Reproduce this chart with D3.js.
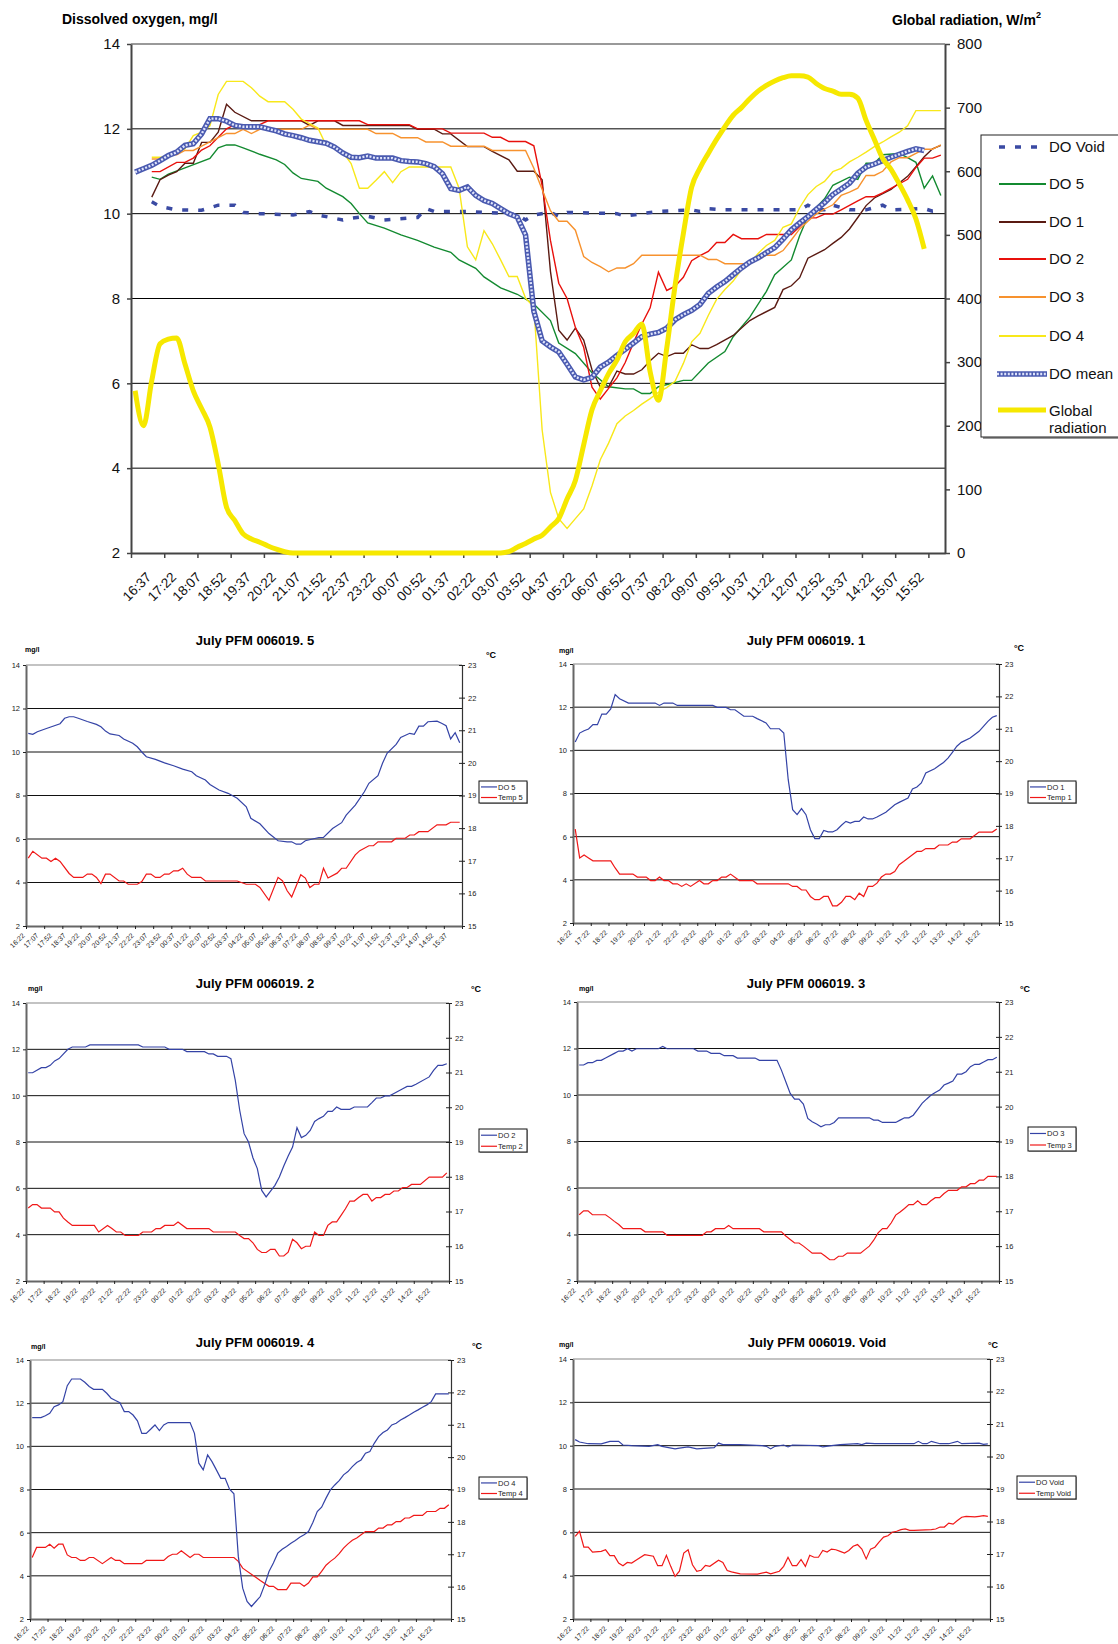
<!DOCTYPE html>
<html>
<head>
<meta charset="utf-8">
<script src="https://cdn.jsdelivr.net/npm/d3@7"></script>
<style>
body { margin: 0; background: #fff; }
svg { display: block; font-family: Arial, "Liberation Sans", sans-serif; }
</style>
</head>
<body>
<svg id="canvas" width="1118" height="1644"></svg>
<script>
// tick labels
const mainLabels = ['16:37','17:22','18:07','18:52','19:37','20:22','21:07','21:52','22:37','23:22','00:07','00:52','01:37','02:22','03:07','03:52','04:37','05:22','06:07','06:52','07:37','08:22','09:07','09:52','10:37','11:22','12:07','12:52','13:37','14:22','15:07','15:52']
const labels5 = ['16:22','17:07','17:52','18:37','19:22','20:07','20:52','21:37','22:22','23:07','23:52','00:37','01:22','02:07','02:52','03:37','04:22','05:07','05:52','06:37','07:22','08:07','08:52','09:37','10:22','11:07','11:52','12:37','13:22','14:07','14:52','15:37']
const hourLabels = ['16:22','17:22','18:22','19:22','20:22','21:22','22:22','23:22','00:22','01:22','02:22','03:22','04:22','05:22','06:22','07:22','08:22','09:22','10:22','11:22','12:22','13:22','14:22','15:22']
const doTicks = [2, 4, 6, 8, 10, 12, 14]
const radTicks = [0, 100, 200, 300, 400, 500, 600, 700, 800]
const tempTicks = [15, 16, 17, 18, 19, 20, 21, 22, 23]

// series: [category index, value], 15 minute steps
const do5 = [[0,10.86],[1,10.81],[2,10.93],[4,11.08],[7,11.3],[8,11.55],[9,11.62],[10,11.62],[11,11.55],[13,11.4],[15,11.27],[16,11.16],[17,10.96],[18,10.83],[20,10.76],[21,10.6],[23,10.4],[24,10.24],[25,10.0],[26,9.78],[28,9.66],[30,9.5],[32,9.37],[34,9.21],[36,9.09],[37,8.91],[39,8.71],[40,8.51],[42,8.25],[44,8.1],[46,7.87],[48,7.48],[49,6.95],[51,6.7],[53,6.25],[55,5.92],[57,5.87],[58,5.87],[59,5.76],[60,5.76],[61,5.92],[64,6.07],[65,6.07],[67,6.48],[69,6.75],[70,7.1],[72,7.56],[74,8.17],[75,8.56],[77,8.91],[78,9.48],[79,9.94],[81,10.35],[82,10.67],[84,10.86],[85,10.81],[86,11.19],[87,11.19],[88,11.39],[90,11.42],[91,11.32],[92,11.21],[93,10.6],[94,10.89],[95,10.43]]
const temp5 = [[0,17.08],[1,17.29],[3,17.08],[4,17.08],[5,16.98],[6,17.08],[7,16.98],[9,16.61],[10,16.49],[12,16.49],[13,16.59],[14,16.59],[15,16.49],[16,16.3],[17,16.59],[18,16.59],[20,16.38],[21,16.38],[22,16.28],[24,16.28],[25,16.36],[26,16.59],[27,16.59],[28,16.49],[29,16.49],[30,16.59],[31,16.59],[32,16.69],[33,16.69],[34,16.77],[35,16.59],[36,16.49],[38,16.49],[39,16.38],[46,16.38],[48,16.28],[50,16.28],[51,16.18],[53,15.79],[55,16.49],[56,16.38],[57,16.08],[58,15.89],[60,16.57],[61,16.47],[62,16.18],[63,16.28],[64,16.28],[65,16.77],[66,16.47],[68,16.62],[69,16.77],[70,16.77],[72,17.18],[73,17.31],[75,17.46],[76,17.46],[77,17.58],[80,17.58],[81,17.69],[83,17.69],[84,17.79],[85,17.79],[86,17.89],[88,17.89],[90,18.1],[92,18.1],[93,18.18],[95,18.18]]
const do1 = [[0,10.39],[1,10.8],[2,10.91],[3,10.99],[4,11.19],[5,11.19],[6,11.68],[7,11.68],[8,11.92],[9,12.58],[10,12.39],[12,12.19],[18,12.19],[19,12.08],[20,12.19],[22,12.19],[23,12.08],[31,12.08],[32,11.99],[34,11.99],[35,11.88],[36,11.88],[38,11.58],[40,11.58],[41,11.47],[43,11.27],[44,11.0],[46,11.0],[47,10.8],[48,8.64],[49,7.25],[50,7.02],[51,7.3],[52,7.02],[53,6.32],[54,5.91],[55,5.91],[56,6.29],[57,6.22],[58,6.22],[59,6.32],[60,6.53],[61,6.71],[62,6.63],[63,6.71],[64,6.71],[65,6.91],[66,6.82],[67,6.82],[68,6.91],[70,7.13],[72,7.48],[73,7.59],[75,7.79],[76,8.21],[77,8.3],[78,8.49],[79,8.95],[81,9.15],[82,9.3],[83,9.44],[84,9.64],[85,9.91],[86,10.19],[87,10.37],[89,10.57],[91,10.88],[92,11.11],[93,11.34],[94,11.53],[95,11.61]]
const temp1 = [[0,17.9],[1,17.01],[2,17.1],[3,17.01],[4,16.92],[8,16.92],[9,16.7],[10,16.51],[13,16.51],[14,16.42],[16,16.42],[17,16.31],[18,16.31],[19,16.42],[20,16.31],[21,16.31],[22,16.21],[23,16.21],[24,16.13],[25,16.21],[26,16.13],[28,16.31],[29,16.21],[30,16.21],[31,16.31],[32,16.31],[33,16.42],[34,16.42],[35,16.51],[37,16.31],[40,16.31],[41,16.21],[48,16.21],[49,16.13],[50,16.13],[51,16.02],[52,16.02],[53,15.82],[54,15.72],[55,15.72],[56,15.82],[57,15.82],[58,15.53],[59,15.53],[60,15.64],[61,15.82],[62,15.82],[63,15.72],[64,15.92],[65,15.82],[66,16.13],[67,16.13],[68,16.23],[69,16.42],[70,16.51],[71,16.51],[72,16.59],[73,16.8],[74,16.9],[76,17.11],[77,17.21],[78,17.21],[79,17.3],[81,17.3],[82,17.41],[84,17.41],[85,17.5],[86,17.5],[87,17.6],[89,17.6],[91,17.81],[94,17.81],[95,17.9]]
const do2 = [[0,10.99],[1,10.99],[3,11.21],[4,11.21],[5,11.31],[6,11.5],[7,11.6],[9,12.0],[10,12.1],[13,12.1],[14,12.19],[25,12.19],[26,12.1],[31,12.1],[32,12.0],[35,12.0],[36,11.9],[40,11.9],[41,11.8],[42,11.8],[43,11.7],[45,11.7],[46,11.6],[47,10.66],[48,9.37],[49,8.36],[50,8.0],[51,7.32],[52,6.85],[53,5.91],[54,5.63],[55,5.88],[56,6.13],[57,6.49],[58,6.96],[59,7.4],[60,7.78],[61,8.62],[62,8.19],[63,8.29],[64,8.5],[65,8.89],[66,9.01],[67,9.11],[68,9.32],[69,9.32],[70,9.51],[71,9.41],[73,9.41],[74,9.51],[77,9.51],[78,9.7],[79,9.9],[80,9.9],[81,9.99],[82,9.99],[83,10.09],[85,10.3],[86,10.4],[87,10.4],[88,10.49],[91,10.81],[92,11.09],[93,11.31],[94,11.31],[95,11.38]]
const temp2 = [[0,17.1],[1,17.2],[2,17.2],[3,17.1],[5,17.1],[6,16.99],[7,16.99],[8,16.81],[9,16.7],[10,16.6],[15,16.6],[16,16.41],[18,16.6],[19,16.51],[20,16.41],[21,16.41],[22,16.31],[25,16.31],[26,16.41],[28,16.41],[29,16.51],[30,16.51],[31,16.6],[33,16.6],[34,16.7],[36,16.51],[41,16.51],[42,16.41],[47,16.41],[48,16.31],[49,16.22],[50,16.22],[51,16.1],[52,15.91],[53,15.82],[54,15.82],[55,15.91],[56,15.91],[57,15.72],[58,15.72],[59,15.83],[60,16.2],[61,16.1],[62,15.93],[63,16.0],[64,16.0],[65,16.41],[66,16.31],[67,16.31],[68,16.6],[69,16.7],[70,16.7],[71,16.89],[72,17.08],[73,17.3],[74,17.3],[75,17.4],[76,17.49],[77,17.49],[78,17.3],[79,17.4],[80,17.4],[81,17.49],[82,17.49],[83,17.59],[84,17.59],[85,17.69],[86,17.69],[87,17.78],[89,17.78],[91,17.99],[94,17.99],[95,18.11]]
const do3 = [[0,11.29],[1,11.29],[2,11.39],[3,11.39],[4,11.49],[5,11.49],[6,11.59],[8,11.79],[9,11.89],[10,11.89],[11,11.99],[12,11.89],[13,11.99],[18,11.99],[19,12.09],[20,11.99],[26,11.99],[27,11.89],[29,11.89],[30,11.79],[32,11.79],[33,11.69],[35,11.69],[36,11.59],[40,11.59],[41,11.49],[45,11.49],[46,11.07],[47,10.57],[48,10.07],[49,9.82],[50,9.82],[51,9.61],[52,8.99],[53,8.85],[54,8.75],[55,8.63],[56,8.72],[57,8.72],[58,8.82],[59,9.02],[66,9.02],[67,8.92],[68,8.92],[69,8.82],[72,8.82],[73,8.92],[74,9.02],[75,9.02],[76,9.13],[77,9.38],[78,9.64],[79,9.82],[80,9.99],[81,10.11],[82,10.21],[83,10.43],[84,10.51],[85,10.6],[86,10.9],[87,10.9],[88,11.0],[89,11.22],[90,11.32],[91,11.32],[92,11.42],[93,11.52],[94,11.52],[95,11.62]]
const temp3 = [[0,16.9],[1,17.01],[2,17.01],[3,16.9],[6,16.9],[7,16.81],[8,16.71],[9,16.62],[10,16.5],[14,16.5],[15,16.41],[19,16.41],[20,16.31],[28,16.31],[29,16.41],[30,16.41],[31,16.5],[33,16.5],[34,16.59],[35,16.5],[41,16.5],[42,16.41],[46,16.41],[47,16.29],[48,16.19],[49,16.09],[50,16.09],[51,16.0],[52,15.9],[53,15.8],[55,15.8],[56,15.71],[57,15.61],[58,15.61],[59,15.71],[60,15.71],[61,15.8],[64,15.8],[65,15.9],[66,16.0],[67,16.17],[68,16.38],[69,16.5],[70,16.5],[71,16.67],[72,16.89],[73,16.98],[74,17.08],[75,17.19],[76,17.19],[77,17.3],[78,17.19],[79,17.19],[80,17.3],[81,17.39],[82,17.39],[83,17.51],[84,17.6],[86,17.6],[87,17.7],[88,17.7],[89,17.79],[90,17.79],[91,17.89],[92,17.89],[93,18.0],[95,18.0]]
const do4 = [[0,11.33],[2,11.33],[3,11.42],[4,11.53],[5,11.84],[6,11.92],[7,12.07],[8,12.81],[9,13.12],[11,13.12],[12,12.97],[13,12.77],[14,12.64],[16,12.64],[17,12.46],[18,12.23],[19,12.12],[20,12.02],[21,11.61],[22,11.61],[23,11.45],[24,11.18],[25,10.6],[26,10.6],[27,10.79],[28,10.99],[29,10.73],[30,10.99],[31,11.1],[36,11.1],[37,10.6],[38,9.22],[39,8.91],[40,9.6],[41,9.29],[42,8.91],[43,8.52],[44,8.52],[45,8.01],[46,7.8],[47,4.9],[48,3.43],[49,2.81],[50,2.58],[51,2.81],[52,3.04],[53,3.58],[54,4.2],[55,4.59],[56,5.05],[57,5.23],[58,5.36],[59,5.51],[60,5.64],[61,5.79],[62,5.9],[63,6.05],[64,6.47],[65,6.98],[66,7.18],[67,7.6],[68,7.98],[69,8.21],[70,8.41],[71,8.68],[72,8.83],[73,9.06],[74,9.25],[75,9.37],[76,9.68],[77,9.76],[78,10.14],[79,10.45],[80,10.64],[81,10.76],[82,10.99],[83,11.07],[84,11.22],[85,11.33],[86,11.45],[87,11.58],[88,11.69],[89,11.81],[90,11.92],[91,12.07],[92,12.43],[93,12.43],[95,12.43]]
const temp4 = [[0,16.9],[1,17.21],[3,17.21],[4,17.31],[5,17.19],[6,17.31],[7,17.31],[8,16.98],[9,16.9],[10,16.9],[11,16.81],[12,16.81],[13,16.9],[14,16.9],[16,16.71],[18,16.9],[19,16.81],[20,16.81],[21,16.71],[25,16.71],[26,16.81],[30,16.81],[31,16.93],[32,17.0],[33,17.0],[34,17.11],[36,16.9],[37,17.0],[38,17.0],[39,16.9],[46,16.9],[47,16.78],[48,16.57],[52,16.19],[54,16.01],[55,16.01],[56,15.91],[58,15.91],[59,16.11],[61,16.11],[62,16.01],[63,16.11],[64,16.3],[65,16.3],[66,16.47],[67,16.66],[68,16.78],[69,16.88],[70,17.02],[71,17.19],[72,17.32],[73,17.43],[74,17.5],[75,17.6],[76,17.7],[78,17.7],[79,17.81],[80,17.81],[81,17.91],[82,17.91],[83,18.01],[84,18.01],[85,18.12],[86,18.12],[87,18.2],[89,18.2],[90,18.32],[92,18.32],[93,18.42],[94,18.42],[95,18.53]]
const doVoid = [[0,10.28],[1,10.17],[3,10.09],[6,10.08],[8,10.2],[10,10.2],[11,10.03],[13,10.0],[17,9.97],[19,10.05],[20,9.97],[23,9.85],[24,9.89],[26,9.94],[28,9.85],[32,9.91],[33,10.12],[34,10.05],[38,10.05],[43,10.0],[44,9.97],[45,9.85],[46,9.97],[48,10.03],[49,9.94],[50,10.03],[56,10.0],[57,9.94],[59,10.0],[61,10.05],[65,10.09],[66,10.05],[67,10.12],[69,10.09],[78,10.09],[79,10.2],[80,10.09],[81,10.09],[82,10.2],[84,10.09],[86,10.09],[88,10.2],[89,10.09],[93,10.12],[94,10.06],[95,10.08]]
const tempVoid = [[0,17.54],[1,17.7],[2,17.21],[3,17.21],[4,17.06],[6,17.08],[7,17.13],[8,16.95],[9,16.95],[10,16.72],[11,16.64],[12,16.74],[13,16.72],[14,16.81],[16,16.98],[18,16.93],[19,16.64],[20,16.64],[21,16.96],[22,16.62],[23,16.31],[24,16.47],[25,17.03],[26,17.13],[27,16.67],[28,16.47],[29,16.5],[30,16.65],[31,16.62],[33,16.81],[34,16.74],[35,16.49],[36,16.45],[38,16.39],[42,16.38],[44,16.44],[45,16.39],[47,16.47],[48,16.62],[49,16.9],[50,16.64],[51,16.64],[52,16.83],[53,16.62],[54,16.96],[55,16.9],[56,16.9],[57,17.11],[58,17.06],[59,17.15],[60,17.13],[61,17.08],[62,17.03],[63,17.11],[64,17.24],[65,17.29],[66,17.15],[67,16.85],[68,17.15],[69,17.21],[70,17.37],[71,17.52],[72,17.56],[73,17.67],[74,17.7],[75,17.75],[76,17.77],[77,17.73],[78,17.73],[82,17.75],[83,17.77],[84,17.83],[85,17.83],[86,17.95],[87,17.92],[88,18.03],[89,18.13],[90,18.16],[92,18.14],[93,18.16],[94,18.18],[95,18.16]]
// main chart only (index on the main time axis)
const doMean = [[0,10.98],[1,11.06],[2,11.14],[3,11.25],[4,11.37],[5,11.45],[6,11.61],[7,11.65],[8,11.88],[9,12.24],[10,12.24],[11,12.18],[12,12.08],[13,12.05],[15,12.05],[16,12.0],[17,11.95],[18,11.88],[19,11.84],[20,11.79],[21,11.73],[23,11.66],[24,11.57],[25,11.43],[26,11.33],[27,11.32],[28,11.36],[29,11.31],[31,11.31],[32,11.25],[33,11.23],[34,11.22],[35,11.18],[36,11.11],[37,10.94],[38,10.59],[39,10.55],[40,10.63],[41,10.43],[42,10.31],[43,10.24],[44,10.12],[45,10.0],[46,9.92],[47,9.5],[48,7.7],[49,7.0],[50,6.86],[51,6.74],[52,6.45],[53,6.15],[54,6.08],[55,6.14],[56,6.38],[57,6.5],[58,6.66],[59,6.8],[60,6.95],[61,7.1],[62,7.16],[63,7.2],[64,7.3],[65,7.5],[66,7.62],[67,7.72],[68,7.86],[69,8.12],[70,8.27],[71,8.4],[72,8.56],[73,8.72],[74,8.86],[75,8.96],[76,9.08],[77,9.2],[78,9.4],[79,9.62],[80,9.78],[81,9.93],[82,10.1],[83,10.26],[84,10.45],[85,10.58],[86,10.72],[87,10.95],[88,11.1],[89,11.17],[90,11.25],[91,11.33],[92,11.4],[93,11.47],[94,11.53],[95,11.49]]
const globalRad = [[0,255],[1,200],[2,271],[3,329],[4,336],[5,338],[6,297],[7,255],[8,227],[9,198],[10,140],[11,72],[12,51],[13,30],[14,22],[15,17],[16,11],[17,6],[18,2],[19,0],[44,0],[45,2],[46,9],[47,15],[48,22],[49,28],[50,41],[51,54],[52,85],[53,114],[54,170],[55,225],[56,255],[57,282],[58,303],[59,332],[60,345],[61,360],[62,285],[63,240],[64,322],[65,420],[66,502],[67,575],[68,605],[69,628],[70,650],[71,670],[72,688],[73,700],[74,714],[75,726],[76,735],[77,742],[78,747],[79,750],[80,750],[81,748],[82,738],[83,730],[84,726],[85,721],[86,721],[87,715],[88,680],[89,650],[90,620],[91,603],[92,580],[93,555],[94,525],[95,478]]

let canvas = d3.select('#canvas')

// ---------- main chart ----------
let xMain = d3.scaleLinear().domain([0, 98]).range([131, 945])
let yDO = d3.scaleLinear().domain([2, 14]).range([553, 44])
let yRad = d3.scaleLinear().domain([0, 800]).range([553, 44])

let main = canvas.append('g')

main.selectAll('.grid')
    .data(doTicks.slice(1, -1))
    .enter()
    .append('line')
    .attr('x1', 131).attr('x2', 945)
    .attr('y1', d => yDO(d)).attr('y2', d => yDO(d))
    .attr('stroke', '#000').attr('stroke-width', 1)

main.append('line')
    .attr('x1', 131).attr('x2', 945).attr('y1', yDO(14)).attr('y2', yDO(14))
    .attr('stroke', '#777').attr('stroke-width', 1.5)

let leftAxis = main.append('g')
    .attr('transform', 'translate(131,0)')
    .call(d3.axisLeft(yDO).tickValues(doTicks).tickSize(4).tickPadding(7).tickSizeOuter(0))
let rightAxis = main.append('g')
    .attr('transform', 'translate(945,0)')
    .call(d3.axisRight(yRad).tickValues(radTicks).tickSize(5).tickPadding(7).tickSizeOuter(0))
let bottomAxis = main.append('g')
    .attr('transform', 'translate(0,553)')
    .call(d3.axisBottom(xMain).tickValues(d3.range(0, 98, 4)).tickSize(5).tickSizeOuter(0).tickFormat(''))

;[leftAxis, rightAxis, bottomAxis].forEach(a => {
    a.select('.domain').attr('stroke', '#444').attr('stroke-width', 2)
    a.selectAll('.tick line').attr('stroke', '#444').attr('stroke-width', 1.5)
    a.selectAll('text').attr('font-size', 15).attr('fill', '#111').attr('font-family', 'Arial, "Liberation Sans", sans-serif')
})

main.selectAll('.xlab')
    .data(mainLabels)
    .enter()
    .append('text')
    .attr('transform', (d, i) => 'translate(' + (xMain(i * 3 + 0.5) + 17) + ',578) rotate(-45)')
    .attr('text-anchor', 'end')
    .attr('font-size', 13.5)
    .attr('fill', '#111')
    .text(d => d)

main.append('text').attr('x', 62).attr('y', 24)
    .attr('font-weight', 'bold').attr('font-size', 14).text('Dissolved oxygen, mg/l')
let radTitle = main.append('text').attr('x', 892).attr('y', 25)
    .attr('font-weight', 'bold').attr('font-size', 14)
radTitle.append('tspan').text('Global radiation, W/m')
radTitle.append('tspan').attr('dy', -7).attr('font-size', 9).text('2')

let mainLine = (scale, shift) => d3.line()
    .x(d => xMain(d[0] + shift + 0.5))
    .y(d => scale(d[1]))

let mainSeries = [
    {name: 'DO Void', data: doVoid, color: '#3a4aa3', width: 3.5, dash: '6,10'},
    {name: 'DO 5', data: do5, color: '#138a30', width: 1.4},
    {name: 'DO 1', data: do1, color: '#5a1a12', width: 1.4},
    {name: 'DO 2', data: do2, color: '#e8100c', width: 1.4},
    {name: 'DO 3', data: do3, color: '#f7922e', width: 1.4},
    {name: 'DO 4', data: do4, color: '#f8e81a', width: 1.4}
]

mainSeries.forEach(s => {
    main.append('path')
        .attr('d', mainLine(yDO, 2)(s.data))
        .attr('fill', 'none')
        .attr('stroke', s.color)
        .attr('stroke-width', s.width)
        .attr('stroke-dasharray', s.dash || null)
})

// patterned mean line: blue body with light dots
let meanBody = '#4a5ab0', meanDots = '#dfe4fb'
main.append('path')
    .attr('d', mainLine(yDO, 0)(doMean))
    .attr('fill', 'none').attr('stroke', meanBody).attr('stroke-width', 5.5)
main.append('path')
    .attr('d', mainLine(yDO, 0)(doMean))
    .attr('fill', 'none').attr('stroke', meanDots).attr('stroke-width', 2.4).attr('stroke-dasharray', '2,1.6')

main.append('path')
    .attr('d', mainLine(yRad, 0).curve(d3.curveMonotoneX)(globalRad))
    .attr('fill', 'none').attr('stroke', '#f6e800').attr('stroke-width', 5).attr('stroke-linejoin', 'round')

// legend
let legend = main.append('g')
legend.append('rect').attr('x', 983).attr('y', 137).attr('width', 150).attr('height', 302).attr('fill', '#999')
legend.append('rect').attr('x', 981).attr('y', 135).attr('width', 150).attr('height', 302)
    .attr('fill', '#fff').attr('stroke', '#222').attr('stroke-width', 1)

let legendRows = [147, 184, 222, 259, 297, 336]
mainSeries.forEach((s, i) => {
    legend.append('line')
        .attr('x1', 999).attr('x2', 1046).attr('y1', legendRows[i]).attr('y2', legendRows[i])
        .attr('stroke', s.color).attr('stroke-width', s.name === 'DO Void' ? 3.5 : 2)
        .attr('stroke-dasharray', s.dash || null)
    legend.append('text').attr('x', 1049).attr('y', legendRows[i] + 5)
        .attr('font-size', 15).attr('fill', '#111').text(s.name)
})
legend.append('line').attr('x1', 997).attr('x2', 1047).attr('y1', 374).attr('y2', 374)
    .attr('stroke', meanBody).attr('stroke-width', 5.5)
legend.append('line').attr('x1', 997).attr('x2', 1047).attr('y1', 374).attr('y2', 374)
    .attr('stroke', meanDots).attr('stroke-width', 2.4).attr('stroke-dasharray', '2,1.6')
legend.append('text').attr('x', 1049).attr('y', 379).attr('font-size', 15).attr('fill', '#111').text('DO mean')
legend.append('line').attr('x1', 998).attr('x2', 1046).attr('y1', 410).attr('y2', 410)
    .attr('stroke', '#f6e800').attr('stroke-width', 5)
legend.append('text').attr('x', 1049).attr('y', 416).attr('font-size', 15).attr('fill', '#111').text('Global')
legend.append('text').attr('x', 1049).attr('y', 433).attr('font-size', 15).attr('fill', '#111').text('radiation')

// ---------- small charts ----------
let smallCharts = [
    {title: 'July PFM 006019. 5', left: 26, right: 462, top: 665, bottom: 926, titleX: 255, titleY: 645, mgX: 25, mgY: 652, degX: 486, degY: 658, leg: [479, 781, 48, 22], doData: do5, tempData: temp5, doName: 'DO 5', tempName: 'Temp 5', labels: labels5, step: 3},
    {title: 'July PFM 006019. 1', left: 573, right: 999, top: 664, bottom: 923, titleX: 806, titleY: 645, mgX: 559, mgY: 653, degX: 1014, degY: 651, leg: [1028, 781, 48, 22], doData: do1, tempData: temp1, doName: 'DO 1', tempName: 'Temp 1', labels: hourLabels, step: 4},
    {title: 'July PFM 006019. 2', left: 26, right: 449, top: 1003, bottom: 1281, titleX: 255, titleY: 988, mgX: 28, mgY: 991, degX: 471, degY: 992, leg: [479, 1129, 48, 23], doData: do2, tempData: temp2, doName: 'DO 2', tempName: 'Temp 2', labels: hourLabels, step: 4},
    {title: 'July PFM 006019. 3', left: 577, right: 999, top: 1002, bottom: 1281, titleX: 806, titleY: 988, mgX: 579, mgY: 991, degX: 1020, degY: 992, leg: [1028, 1127, 48, 24], doData: do3, tempData: temp3, doName: 'DO 3', tempName: 'Temp 3', labels: hourLabels, step: 4},
    {title: 'July PFM 006019. 4', left: 30, right: 451, top: 1360, bottom: 1619, titleX: 255, titleY: 1347, mgX: 31, mgY: 1349, degX: 472, degY: 1349, leg: [479, 1477, 48, 22], doData: do4, tempData: temp4, doName: 'DO 4', tempName: 'Temp 4', labels: hourLabels, step: 4},
    {title: 'July PFM 006019. Void', left: 573, right: 990, top: 1359, bottom: 1619, titleX: 817, titleY: 1347, mgX: 559, mgY: 1347, degX: 988, degY: 1348, leg: [1017, 1476, 59, 23], doData: doVoid, tempData: tempVoid, doName: 'DO Void', tempName: 'Temp Void', labels: hourLabels, step: 4}
]

let drawSmall = (c) => {
    let g = canvas.append('g')
    let x = d3.scaleLinear().domain([0, 96]).range([c.left, c.right])
    let yl = d3.scaleLinear().domain([2, 14]).range([c.bottom, c.top])
    let yr = d3.scaleLinear().domain([15, 23]).range([c.bottom, c.top])

    g.selectAll('.grid')
        .data(doTicks.slice(1, -1))
        .enter()
        .append('line')
        .attr('x1', c.left).attr('x2', c.right)
        .attr('y1', d => yl(d)).attr('y2', d => yl(d))
        .attr('stroke', '#111').attr('stroke-width', 1)
    g.append('line')
        .attr('x1', c.left).attr('x2', c.right).attr('y1', yl(14)).attr('y2', yl(14))
        .attr('stroke', '#888').attr('stroke-width', 1.2)

    let la = g.append('g').attr('transform', 'translate(' + c.left + ',0)')
        .call(d3.axisLeft(yl).tickValues(doTicks).tickSize(3).tickPadding(3).tickSizeOuter(0))
    let ra = g.append('g').attr('transform', 'translate(' + c.right + ',0)')
        .call(d3.axisRight(yr).tickValues(tempTicks).tickSize(3).tickPadding(3).tickSizeOuter(0))
    ra.selectAll('.tick line').attr('x1', -3)
    let ba = g.append('g').attr('transform', 'translate(0,' + c.bottom + ')')
        .call(d3.axisBottom(x).tickValues(d3.range(0, 97, 4)).tickSize(3).tickSizeOuter(0).tickFormat(''))

    ;[la, ba].forEach(a => a.select('.domain').attr('stroke', '#666').attr('stroke-width', 2))
    ra.select('.domain').attr('stroke', '#333').attr('stroke-width', 1.2)
    ;[la, ra, ba].forEach(a => {
        a.selectAll('.tick line').attr('stroke', '#222')
        a.selectAll('text').attr('font-size', 7.5).attr('fill', '#222').attr('font-family', 'Arial, "Liberation Sans", sans-serif')
    })

    g.selectAll('.xlab')
        .data(c.labels)
        .enter()
        .append('text')
        .attr('transform', (d, i) => 'translate(' + (x(i * c.step + 0.5) - 3) + ',' + (c.bottom + 10) + ') rotate(-45)')
        .attr('text-anchor', 'end')
        .attr('font-size', 7)
        .attr('fill', '#222')
        .text(d => d)

    let line = (scale) => d3.line().x(d => x(d[0] + 0.5)).y(d => scale(d[1]))
    g.append('path').attr('d', line(yr)(c.tempData))
        .attr('fill', 'none').attr('stroke', '#f01818').attr('stroke-width', 1.2)
    g.append('path').attr('d', line(yl)(c.doData))
        .attr('fill', 'none').attr('stroke', '#3443a6').attr('stroke-width', 1.2)

    g.append('text').attr('x', c.titleX).attr('y', c.titleY).attr('text-anchor', 'middle')
        .attr('font-weight', 'bold').attr('font-size', 13).text(c.title)
    g.append('text').attr('x', c.mgX).attr('y', c.mgY)
        .attr('font-weight', 'bold').attr('font-size', 7).text('mg/l')
    g.append('text').attr('x', c.degX).attr('y', c.degY)
        .attr('font-weight', 'bold').attr('font-size', 9).text('°C')

    let [lx, ly, lw, lh] = c.leg
    g.append('rect').attr('x', lx + 1).attr('y', ly + 1).attr('width', lw).attr('height', lh).attr('fill', '#aaa')
    g.append('rect').attr('x', lx).attr('y', ly).attr('width', lw).attr('height', lh)
        .attr('fill', '#fff').attr('stroke', '#111').attr('stroke-width', 1)
    let rows = [[c.doName, '#3443a6'], [c.tempName, '#f01818']]
    rows.forEach((r, i) => {
        let yy = ly + lh * (i === 0 ? 0.27 : 0.75)
        g.append('line').attr('x1', lx + 2).attr('x2', lx + 18).attr('y1', yy).attr('y2', yy)
            .attr('stroke', r[1]).attr('stroke-width', 1.2)
        g.append('text').attr('x', lx + 19).attr('y', yy + 2.6)
            .attr('font-size', 7.5).attr('fill', '#222').text(r[0])
    })
}

smallCharts.forEach(drawSmall)
</script>
</body>
</html>
